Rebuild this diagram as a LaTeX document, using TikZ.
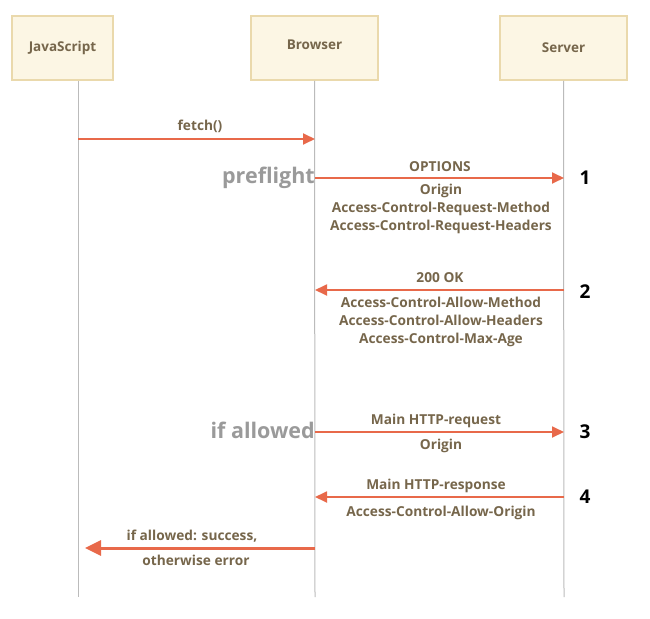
\documentclass[tikz,border=0pt]{standalone}
\usepackage{fontspec}
\setmainfont{Open Sans}
\usepackage{tikz}
\usetikzlibrary{arrows.meta}

\definecolor{boxfill}{HTML}{FCF6E4}
\definecolor{boxline}{HTML}{EAD9AC}
\definecolor{msgred}{HTML}{E8694A}
\definecolor{msgtext}{HTML}{76664B}
\definecolor{lifegray}{HTML}{BBBBBB}
\definecolor{notegray}{HTML}{9A9A9A}

\tikzset{
  actor/.style={draw=boxline, fill=boxfill, line width=1.5pt, minimum width=100pt, minimum height=64pt, text=msgtext, font=\bfseries\fontsize{13.5}{18}\selectfont},
  lifeline/.style={draw=lifegray, line width=1pt},
  msg/.style={draw=msgred, line width=1.8pt, -{Triangle[length=12pt,width=11pt]}},
  bigmsg/.style={draw=msgred, line width=3pt, -{Triangle[length=16pt,width=15pt]}},
  label/.style={text=msgtext, font=\bfseries\fontsize{13.7}{18}\selectfont, inner sep=0pt},
  note/.style={text=notegray, font=\bfseries\fontsize{21.5}{24}\selectfont, inner sep=0pt},
  num/.style={text=black, font=\bfseries\fontsize{19}{20}\selectfont, inner sep=0pt}
}

\begin{document}
\begin{tikzpicture}[x=1pt, y=-1pt]
\useasboundingbox (0,0) rectangle (650,618);
% Actors
\node[actor, minimum width=101pt] (js) at (62.5,48) {JavaScript};
\node[actor, minimum width=127pt, text depth=6pt] (br) at (314.5,48) {Browser};
\node[actor, minimum width=127pt] (sv) at (563.5,48) {Server};
% Lifelines
\coordinate (jsend) at (78,597);
\coordinate (brend) at (315,597);
\coordinate (svend) at (564,597);
\draw[lifeline] (js.south -| jsend) -- (jsend);
\draw[lifeline] (br.south) -- (brend);
\draw[lifeline] (sv.south) -- (svend);
% Message points
\coordinate (js0) at (78,139);
\coordinate (br0) at (315,139);
\coordinate (br1) at (315,178);
\coordinate (sv1) at (564,178);
\coordinate (sv2) at (564,290);
\coordinate (br2) at (315,290);
\coordinate (br3) at (315,432);
\coordinate (sv3) at (564,432);
\coordinate (sv4) at (564,497);
\coordinate (br4) at (315,497);
\coordinate (br5) at (315,548);
\coordinate (js5) at (85,548);
% Messages
\draw[msg] (js0) -- (br0);
\draw[msg] (br1) -- (sv1);
\draw[msg] (sv2) -- (br2);
\draw[msg] (br3) -- (sv3);
\draw[msg] (sv4) -- (br4);
\draw[bigmsg] (br5) -- (js5);
% Labels
\node[label] (l0) at (200,126) {fetch()};
\node[label] (l1) at (440,167) {OPTIONS};
\node[label, align=center] (l1b) at (441,209) {Origin\\Access-Control-Request-Method\\Access-Control-Request-Headers};
\node[label] (l2) at (440,278) {200 OK};
\node[label, align=center] (l2b) at (441,322) {Access-Control-Allow-Method\\Access-Control-Allow-Headers\\Access-Control-Max-Age};
\node[label] (l3) at (436,421) {Main HTTP-request};
\node[label] (l3b) at (441,446) {Origin};
\node[label] (l4) at (436,486) {Main HTTP-response};
\node[label] (l4b) at (441,513) {Access-Control-Allow-Origin};
\node[label] (l5) at (192,536) {if allowed: success,};
\node[label] (l5b) at (196,560) {otherwise error};
% Notes
\node[note, anchor=east] (pre) at (315,178) {preflight};
\node[note, anchor=east] (ifa) at (315,430) {if allowed};
% Step numbers
\node[num] (n1) at (585,178) {1};
\node[num] (n2) at (585,292) {2};
\node[num] (n3) at (585,432) {3};
\node[num] (n4) at (585,497) {4};
\end{tikzpicture}
\end{document}
